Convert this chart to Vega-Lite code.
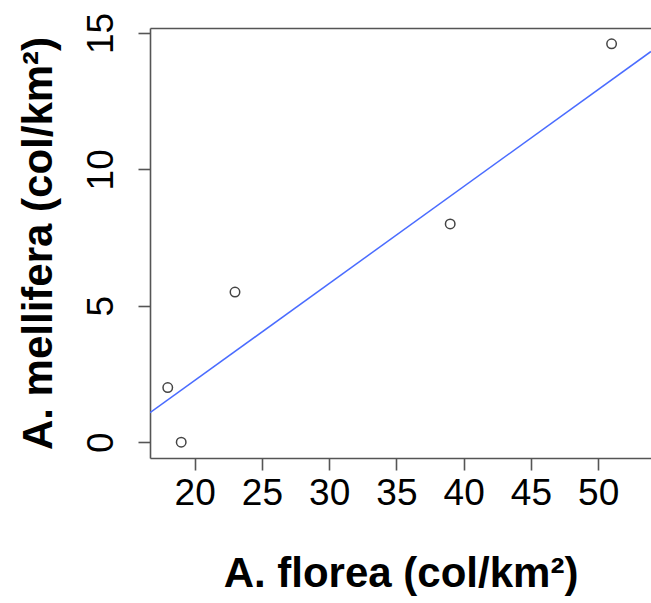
{
  "$schema": "https://vega.github.io/schema/vega-lite/v6.json",
  "autosize": "none",
  "padding": {"left": 150, "top": 28, "right": 0, "bottom": 145},
  "width": 501,
  "height": 430,
  "config": {
    "view": {"stroke": null},
    "font": "Liberation Sans",
    "axis": {
      "grid": false,
      "domainColor": "#555555",
      "domainWidth": 1.6,
      "tickColor": "#555555",
      "tickWidth": 1.6,
      "tickSize": 12,
      "labelColor": "#000000",
      "labelFont": "Liberation Sans",
      "labelFontSize": 37,
      "titleColor": "#000000",
      "titleFont": "Liberation Sans",
      "titleFontSize": 42,
      "titleFontWeight": "bold"
    }
  },
  "resolve": {"axis": {"x": "independent"}},
  "layer": [
    {
      "data": {"values": [
        {"florea": 18, "mellifera": 2.0},
        {"florea": 19, "mellifera": 0.0},
        {"florea": 23, "mellifera": 5.5},
        {"florea": 39, "mellifera": 8.0},
        {"florea": 51, "mellifera": 14.6}
      ]},
      "mark": {"type": "point", "shape": "circle", "filled": false, "stroke": "#444444", "strokeWidth": 1.5, "size": 90, "opacity": 1},
      "encoding": {
        "x": {"field": "florea", "type": "quantitative",
              "scale": {"domain": [16.68, 53.93], "nice": false, "zero": false},
              "axis": {"orient": "bottom", "values": [20, 25, 30, 35, 40, 45, 50], "title": "A. florea (col/km²)", "labelPadding": 5, "titlePadding": 42, "labelFlush": false, "labelOverlap": false}},
        "y": {"field": "mellifera", "type": "quantitative",
              "scale": {"domain": [-0.58, 15.18], "nice": false, "zero": false},
              "axis": {"values": [0, 5, 10, 15], "title": "A. mellifera (col/km²)", "labelAngle": -90, "labelAlign": "center", "labelBaseline": "bottom", "labelPadding": 18, "titlePadding": 22, "labelFlush": false, "labelOverlap": false}}
      }
    },
    {
      "data": {"values": [
        {"florea": 16.68, "mellifera": 1.08},
        {"florea": 53.93, "mellifera": 14.32}
      ]},
      "mark": {"type": "line", "color": "#4a6cff", "strokeWidth": 1.5, "clip": true},
      "encoding": {
        "x": {"field": "florea", "type": "quantitative",
              "axis": {"orient": "top", "labels": false, "ticks": false, "title": null, "domain": true}},
        "y": {"field": "mellifera", "type": "quantitative"}
      }
    }
  ]
}
